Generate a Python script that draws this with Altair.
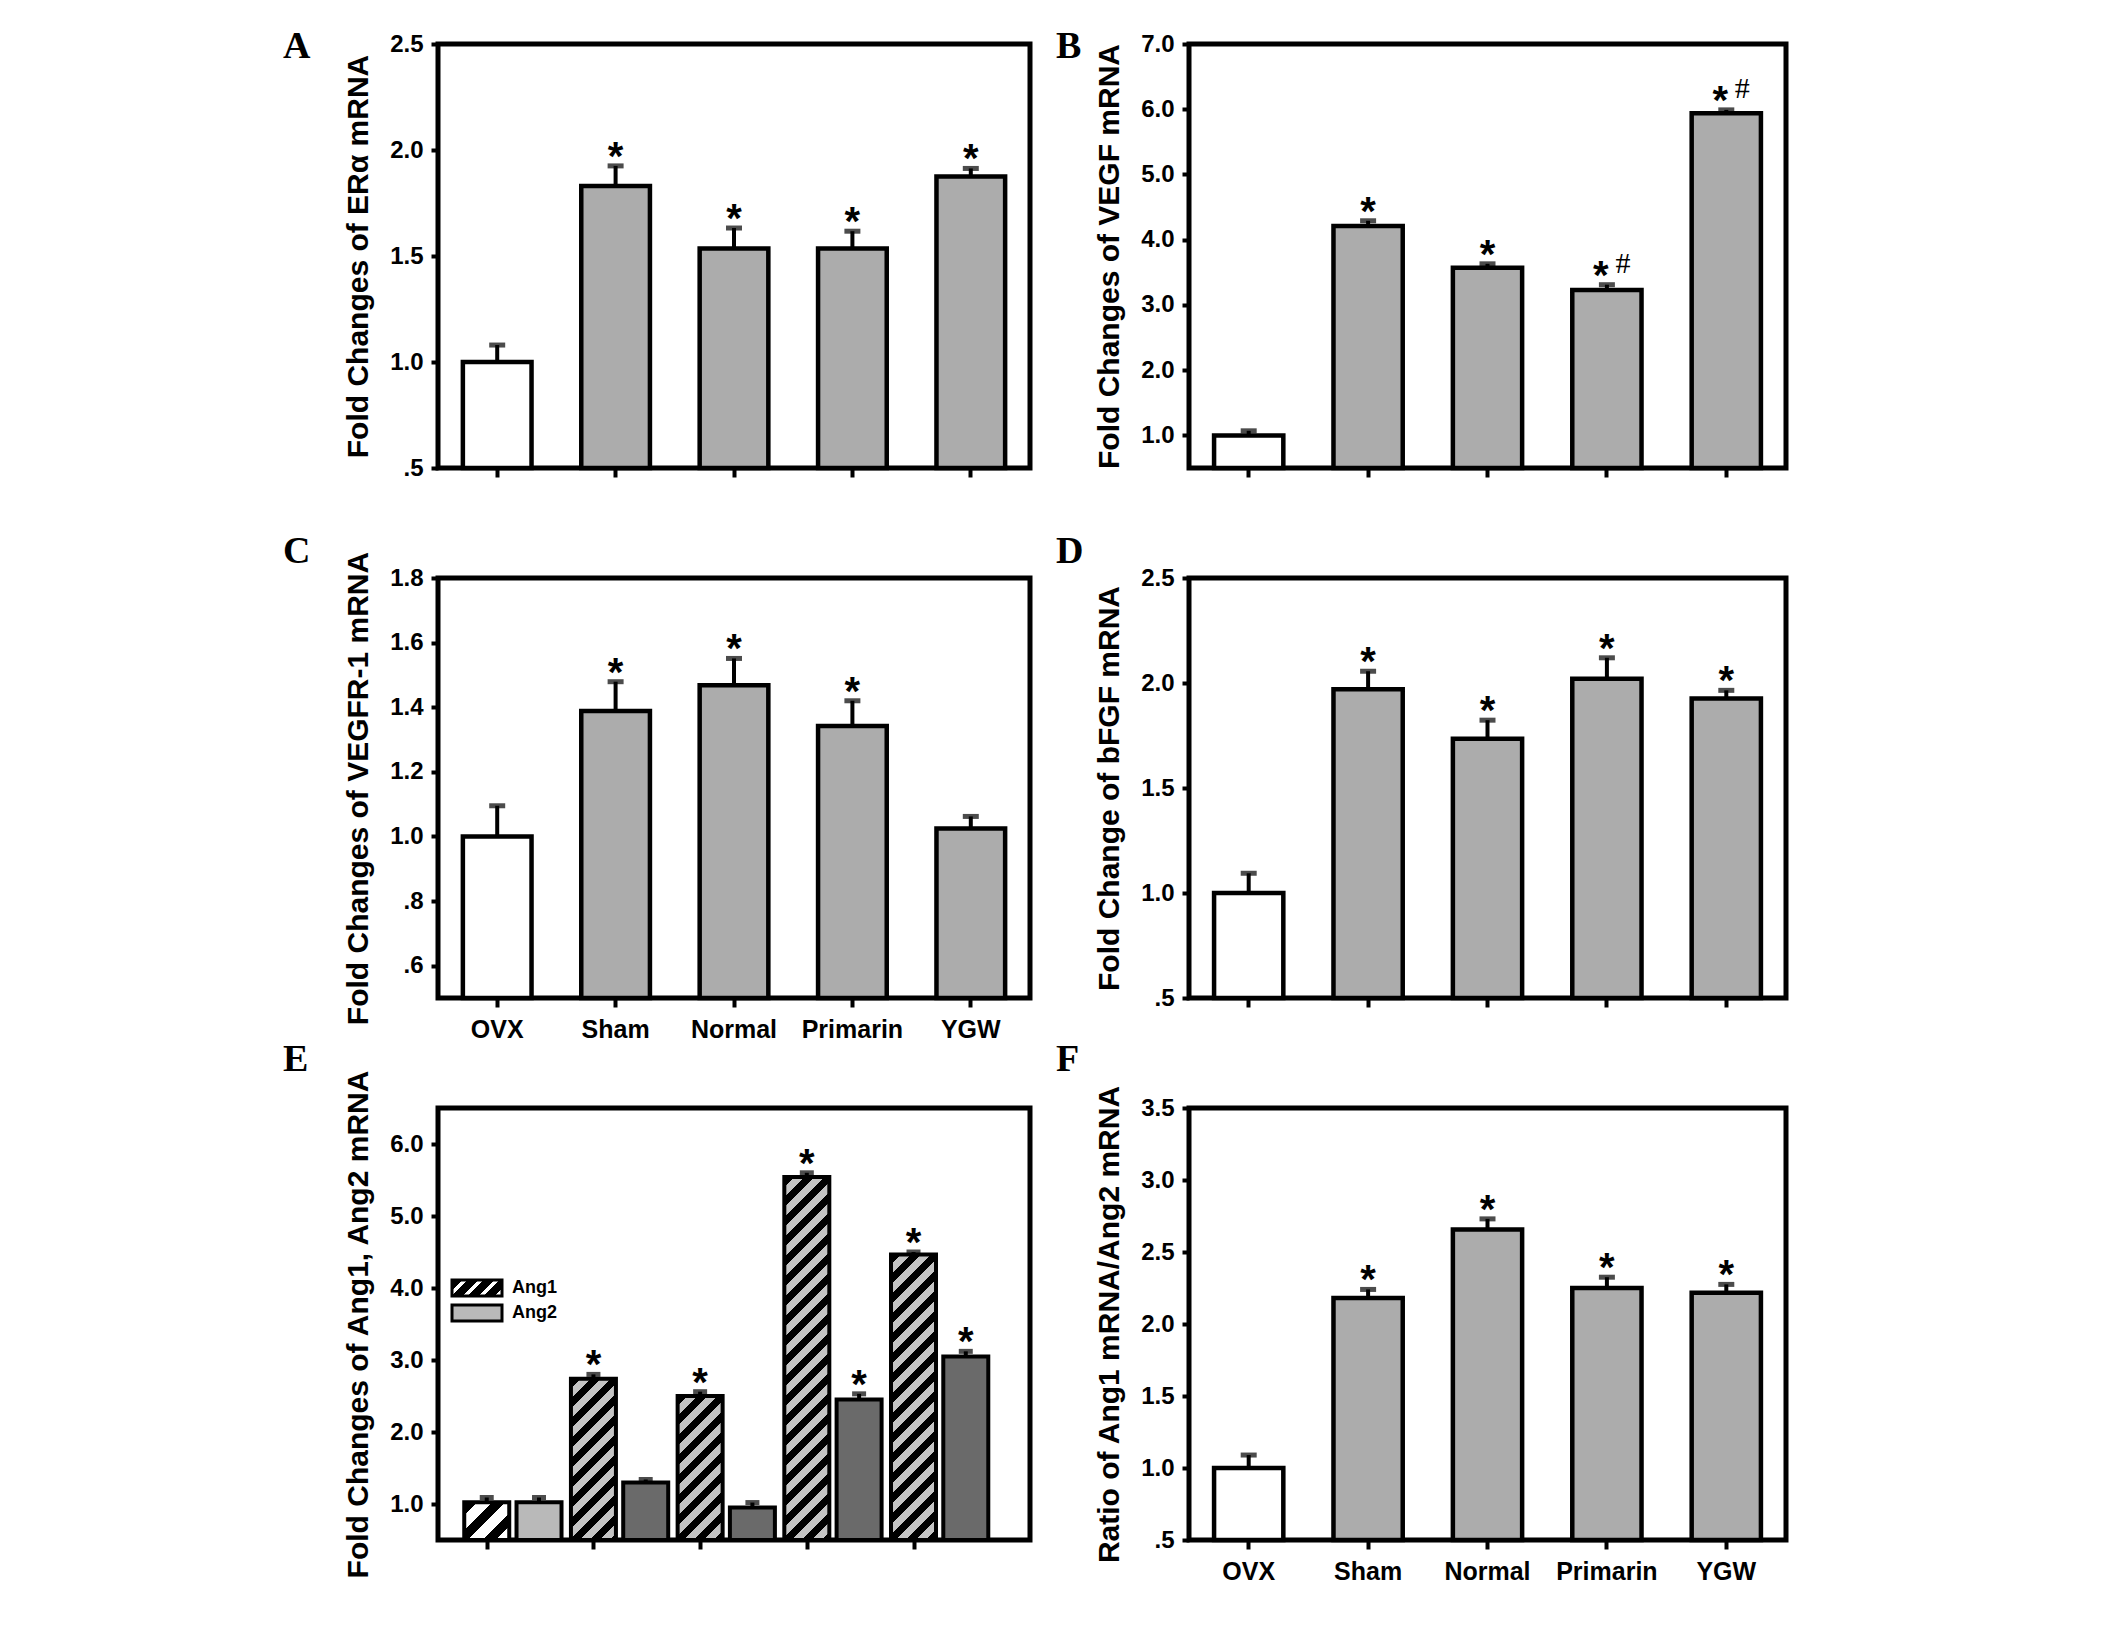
import altair as alt

# ---------------- data ----------------
GROUPS = ["OVX", "Sham", "Normal", "Primarin", "YGW"]

A_VALS = [1.00, 1.83, 1.535, 1.535, 1.875]
A_ERR = [1.08, 1.925, 1.632, 1.617, 1.913]
A_STAR = ["", "*", "*", "*", "*"]
A_HASH = ["", "", "", "", ""]
A_TICKS = [0.5, 1.0, 1.5, 2.0, 2.5]

B_VALS = [1.00, 4.21, 3.57, 3.23, 5.94]
B_ERR = [1.07, 4.29, 3.63, 3.31, 5.99]
B_STAR = ["", "*", "*", "*", "*"]
B_HASH = ["", "", "", "#", "#"]
B_TICKS = [1.0, 2.0, 3.0, 4.0, 5.0, 6.0, 7.0]

C_VALS = [1.00, 1.388, 1.468, 1.342, 1.025]
C_ERR = [1.095, 1.479, 1.551, 1.42, 1.062]
C_STAR = ["", "*", "*", "*", ""]
C_HASH = ["", "", "", "", ""]
C_TICKS = [0.6, 0.8, 1.0, 1.2, 1.4, 1.6, 1.8]

D_VALS = [1.00, 1.97, 1.734, 2.02, 1.926]
D_ERR = [1.094, 2.056, 1.823, 2.12, 1.965]
D_STAR = ["", "*", "*", "*", "*"]
D_HASH = ["", "", "", "", ""]
D_TICKS = [0.5, 1.0, 1.5, 2.0, 2.5]

E_SERIES = ["Ang1", "Ang2"]
E_ANG1 = [1.025, 2.74, 2.50, 5.54, 4.465]
E_ANG1_ERR = [1.09, 2.80, 2.56, 5.60, 4.50]
E_ANG1_STAR = ["", "*", "*", "*", "*"]
E_ANG2 = [1.025, 1.30, 0.95, 2.45, 3.05]
E_ANG2_ERR = [1.09, 1.34, 1.02, 2.53, 3.12]
E_ANG2_STAR = ["", "", "", "*", "*"]
E_TICKS = [1.0, 2.0, 3.0, 4.0, 5.0, 6.0]

F_VALS = [1.00, 2.18, 2.657, 2.25, 2.217]
F_ERR = [1.09, 2.24, 2.73, 2.325, 2.275]
F_STAR = ["", "*", "*", "*", "*"]
F_HASH = ["", "", "", "", ""]
F_TICKS = [0.5, 1.0, 1.5, 2.0, 2.5, 3.0, 3.5]

# ---------------- style ----------------
WHITE = "#ffffff"
GRAY = "#acacac"
LIGHT = "#b9b9b9"
DARK = "#6a6a6a"
HATCH_BG = "#c4c4c4"
SANS = "Liberation Sans"
SERIF = "Liberation Serif"
LEFT_W, RIGHT_W = 592, 597
H1, H2, H3 = 424, 420, 432
STAR_SIZE = 40
LABEL_EXPR = ("datum.value < 1 ? replace(format(datum.value, '.1f'), '0.', '.') "
              ": format(datum.value, '.1f')")


def hatch(w, h, period, frac, bg, fg):
    """Diagonal '/' stripes as a linear gradient in bounding-box units."""
    a = (w + h) / (w * w + h * h)
    n = (w + h) / period
    stops = []
    k = 0
    while k < n:
        o0 = k / n
        o1 = min((k + frac) / n, 1.0)
        o2 = min((k + 1) / n, 1.0)
        stops += [{"offset": o0, "color": fg}, {"offset": o1, "color": fg},
                  {"offset": o1, "color": bg}, {"offset": o2, "color": bg}]
        k += 1
    return {"gradient": "linear", "x1": 0, "y1": 0, "x2": a * w, "y2": a * h,
            "stops": stops}


def letter_mark(letter, lx, ly):
    return alt.Chart(alt.Data(values=[{"letter": letter}])).mark_text(
        align="left", baseline="alphabetic", font=SERIF, fontSize=38,
        fontWeight="bold", color="black").encode(
        x=alt.value(lx), y=alt.value(ly), text="letter:N")


def bar_panel(vals, errs, stars, hashes, ydom, yticks, ytitle, letter, lx, ly,
              width, height, xlabels):
    fills = [WHITE] + [GRAY] * (len(GROUPS) - 1)
    recs = []
    for g, v, e, f, s, hs in zip(GROUPS, vals, errs, fills, stars, hashes):
        recs.append({"group": g, "value": v, "err": e, "fill": f,
                     "star": s if not hs else "", "star2": s if hs else "",
                     "hash": hs})
    base = alt.Chart(alt.Data(values=recs))
    x = alt.X("group:N", sort=GROUPS,
              scale=alt.Scale(paddingInner=0.42, paddingOuter=0.21),
              axis=alt.Axis(title=None, labels=xlabels, labelAngle=0))
    ysc = alt.Scale(domain=ydom, nice=False, zero=False)
    yax = alt.Axis(title=ytitle, values=yticks, labelExpr=LABEL_EXPR)
    bars = base.mark_bar(stroke="black", strokeWidth=4.5).encode(
        x=x, y=alt.Y("value:Q", scale=ysc, axis=yax), y2=alt.datum(ydom[0]),
        fill=alt.Fill("fill:N", scale=None))
    rule = base.mark_rule(color="black", strokeWidth=4).encode(
        x=x, y=alt.Y("value:Q", scale=ysc, axis=yax), y2="err:Q")
    cap = base.mark_tick(orient="horizontal", size=16, thickness=5, color="black").encode(
        x=x, y=alt.Y("err:Q", scale=ysc, axis=yax))
    star = base.mark_text(font=SANS, fontWeight="bold", fontSize=STAR_SIZE, color="black",
                          baseline="alphabetic", dy=4).encode(
        x=x, y=alt.Y("err:Q", scale=ysc, axis=yax), text="star:N")
    star2 = base.mark_text(font=SANS, fontWeight="bold", fontSize=STAR_SIZE, color="black",
                           baseline="alphabetic", dy=4, dx=-6).encode(
        x=x, y=alt.Y("err:Q", scale=ysc, axis=yax), text="star2:N")
    hsh = base.mark_text(font=SERIF, fontWeight="normal", fontSize=30, color="black",
                         baseline="alphabetic", dy=-12, dx=16).encode(
        x=x, y=alt.Y("err:Q", scale=ysc, axis=yax), text="hash:N")
    return alt.layer(bars, rule, cap, star, star2, hsh,
                     letter_mark(letter, lx, ly)).properties(width=width, height=height)


def ang_panel(width, height, lx, ly):
    ydom = [0.5, 6.5]
    px_per_unit = height / (ydom[1] - ydom[0])
    bar_w = 45
    recs = []
    for i in range(len(GROUPS)):
        h1 = (E_ANG1[i] - ydom[0]) * px_per_unit
        if i == 0:
            f1 = hatch(bar_w, h1, 28, 0.45, WHITE, "black")
        else:
            f1 = hatch(bar_w, h1, 20, 0.5, HATCH_BG, "black")
        recs.append({"series": "Ang1", "pos": i, "value": E_ANG1[i],
                     "err": E_ANG1_ERR[i], "fill": f1, "star": E_ANG1_STAR[i]})
        recs.append({"series": "Ang2", "pos": i + 0.49, "value": E_ANG2[i],
                     "err": E_ANG2_ERR[i], "fill": LIGHT if i == 0 else DARK,
                     "star": E_ANG2_STAR[i]})
    base = alt.Chart(alt.Data(values=recs))
    x = alt.X("pos:Q", scale=alt.Scale(domain=[-0.41, 5.045], nice=False, zero=False),
              axis=alt.Axis(title=None, labels=False, values=[0, 1, 2, 3, 4]))
    ysc = alt.Scale(domain=ydom, nice=False, zero=False)
    yax = alt.Axis(title="Fold Changes of Ang1, Ang2 mRNA", values=E_TICKS,
                   labelExpr=LABEL_EXPR)
    bars = base.mark_bar(size=bar_w, stroke="black", strokeWidth=4).encode(
        x=x, y=alt.Y("value:Q", scale=ysc, axis=yax), y2=alt.datum(ydom[0]),
        fill=alt.Fill("fill:N", scale=None))
    rule = base.mark_rule(color="black", strokeWidth=4).encode(
        x=x, y=alt.Y("value:Q", scale=ysc, axis=yax), y2="err:Q")
    cap = base.mark_tick(orient="horizontal", size=14, thickness=5, color="black").encode(
        x=x, y=alt.Y("err:Q", scale=ysc, axis=yax))
    star = base.mark_text(font=SANS, fontWeight="bold", fontSize=STAR_SIZE, color="black",
                          baseline="alphabetic", dy=4).encode(
        x=x, y=alt.Y("err:Q", scale=ysc, axis=yax), text="star:N")

    # hand-made legend
    sw_fill = hatch(50, 16, 16, 0.65, WHITE, "black")
    sw1 = alt.Chart(alt.Data(values=[{"label": E_SERIES[0]}])).mark_rect(
        fill=sw_fill, stroke="black", strokeWidth=3).encode(
        x=alt.value(14), x2=alt.value(64), y=alt.value(172), y2=alt.value(188))
    sw2 = alt.Chart(alt.Data(values=[{"label": E_SERIES[1]}])).mark_rect(
        fill=LIGHT, stroke="black", strokeWidth=3).encode(
        x=alt.value(14), x2=alt.value(64), y=alt.value(197), y2=alt.value(213))
    t1 = alt.Chart(alt.Data(values=[{"label": E_SERIES[0]}])).mark_text(
        align="left", baseline="middle", font=SANS, fontWeight="bold", fontSize=18,
        color="black").encode(x=alt.value(74), y=alt.value(180), text="label:N")
    t2 = alt.Chart(alt.Data(values=[{"label": E_SERIES[1]}])).mark_text(
        align="left", baseline="middle", font=SANS, fontWeight="bold", fontSize=18,
        color="black").encode(x=alt.value(74), y=alt.value(205), text="label:N")
    return alt.layer(bars, rule, cap, star, sw1, sw2, t1, t2,
                     letter_mark("E", lx, ly)).properties(width=width, height=height)


A = bar_panel(A_VALS, A_ERR, A_STAR, A_HASH, [0.5, 2.5], A_TICKS,
              "Fold Changes of ERα mRNA", "A", -155, 14, LEFT_W, H1, False)
B = bar_panel(B_VALS, B_ERR, B_STAR, B_HASH, [0.5, 7.0], B_TICKS,
              "Fold Changes of VEGF mRNA", "B", -133, 14, RIGHT_W, H1, False)
C = bar_panel(C_VALS, C_ERR, C_STAR, C_HASH, [0.5, 1.8], C_TICKS,
              "Fold Changes of VEGFR-1 mRNA", "C", -155, -15, LEFT_W, H2, True)
D = bar_panel(D_VALS, D_ERR, D_STAR, D_HASH, [0.5, 2.5], D_TICKS,
              "Fold Change of bFGF mRNA", "D", -133, -15, RIGHT_W, H2, False)
E = ang_panel(LEFT_W, H3, -155, -37)
F = bar_panel(F_VALS, F_ERR, F_STAR, F_HASH, [0.5, 3.5], F_TICKS,
              "Ratio of Ang1 mRNA/Ang2 mRNA", "F", -133, -37, RIGHT_W, H3, True)

chart = alt.concat(
    A, B, C, D, E, F, columns=2, spacing={"row": 110, "column": 159}, bounds="flush"
).properties(
    autosize=alt.AutoSizeParams(type="none"),
    padding={"left": 430, "top": 36, "right": 1670, "bottom": 1570},
    background="white",
).configure_view(
    stroke="black", strokeWidth=5
).configure_axis(
    domain=False, grid=False, ticks=True, tickColor="black", tickWidth=4,
    labelFont=SANS, labelFontWeight="bold", labelFontSize=24, labelColor="black",
    titleFont=SANS, titleFontWeight="bold", titleFontSize=30, titleColor="black",
).configure_axisX(
    tickSize=9, labelFontSize=25, labelPadding=10
).configure_axisY(
    tickSize=7, labelPadding=8, titlePadding=16
)

chart.save("out.html", embed_options={"renderer": "svg", "actions": False})
